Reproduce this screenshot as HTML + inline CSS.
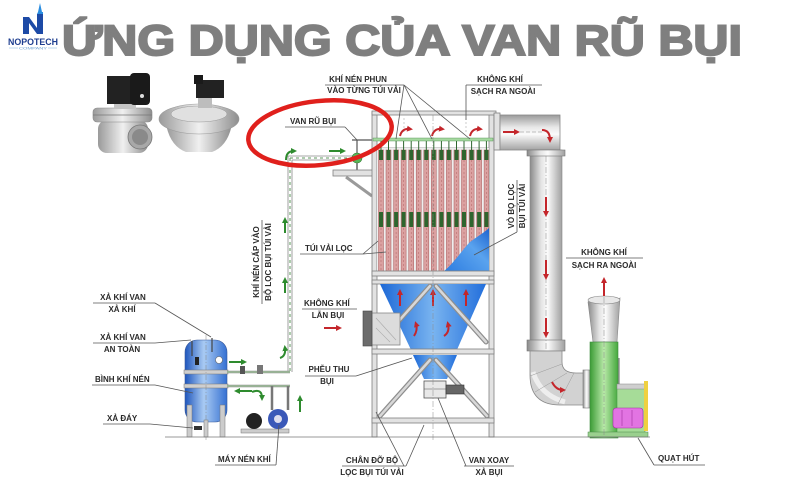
<!DOCTYPE html>
<html><head><meta charset="utf-8">
<style>
html,body{margin:0;padding:0;background:#fff;}
svg{display:block;}
.t{font-family:"Liberation Sans",Arial,sans-serif;font-weight:bold;font-size:8px;fill:#2a2a2a;}
.ln{stroke:#555;stroke-width:0.8;fill:none;}
.fr{fill:#e2e2e2;stroke:#808080;stroke-width:0.8;}
</style></head><body>
<svg width="800" height="496" viewBox="0 0 800 496" xmlns="http://www.w3.org/2000/svg">
<defs>
<linearGradient id="pv" x1="0" x2="1" y1="0" y2="0">
 <stop offset="0" stop-color="#8a8a8a"/><stop offset="0.35" stop-color="#e4e4e4"/><stop offset="0.55" stop-color="#fbfbfb"/><stop offset="1" stop-color="#a0a0a0"/>
</linearGradient>
<linearGradient id="ph" x1="0" x2="0" y1="0" y2="1">
 <stop offset="0" stop-color="#9a9a9a"/><stop offset="0.35" stop-color="#e8e8e8"/><stop offset="0.55" stop-color="#fbfbfb"/><stop offset="1" stop-color="#a4a4a4"/>
</linearGradient>
<linearGradient id="bl" x1="0" x2="1" y1="0" y2="0">
 <stop offset="0" stop-color="#1c68d6"/><stop offset="0.5" stop-color="#79b4f0"/><stop offset="1" stop-color="#226edb"/>
</linearGradient>
<linearGradient id="bl2" x1="0" x2="1" y1="1" y2="0">
 <stop offset="0" stop-color="#2b7be0"/><stop offset="0.6" stop-color="#5aa3ee"/><stop offset="1" stop-color="#1d63cf"/>
</linearGradient>
<linearGradient id="tk" x1="0" x2="1" y1="0" y2="0">
 <stop offset="0" stop-color="#1f56bd"/><stop offset="0.45" stop-color="#a9cbf3"/><stop offset="1" stop-color="#3570d2"/>
</linearGradient>
<linearGradient id="gr" x1="0" x2="1" y1="0" y2="0">
 <stop offset="0" stop-color="#3c9c36"/><stop offset="0.5" stop-color="#b8e8a8"/><stop offset="1" stop-color="#45a83d"/>
</linearGradient>
<linearGradient id="vl" x1="0" x2="1" y1="0" y2="0">
 <stop offset="0" stop-color="#9a9a9a"/><stop offset="0.5" stop-color="#f0f0f0"/><stop offset="1" stop-color="#8e8e8e"/>
</linearGradient>
<marker id="mr" viewBox="0 0 10 10" refX="5" refY="5" markerWidth="6" markerHeight="6" markerUnits="userSpaceOnUse" orient="auto"><path d="M0,0 L10,5 L0,10 z" fill="#c4262b"/></marker>
<marker id="mg" viewBox="0 0 10 10" refX="5" refY="5" markerWidth="6" markerHeight="6" markerUnits="userSpaceOnUse" orient="auto"><path d="M0,0 L10,5 L0,10 z" fill="#2e8b2e"/></marker>
</defs>

<rect width="800" height="496" fill="#fff"/>

<!-- Logo -->
<polygon points="38,12 40,3 42,12 43,12 43,34 37,34 37,14" fill="#2a8de0"/>
<polygon points="23,17 29,17 37,28 37,14 43,14 43,34 37,34 29,23 29,34 23,34" fill="#1d4aa6"/>
<text x="8" y="45" font-family="Liberation Sans, Arial, sans-serif" font-weight="bold" font-size="9" fill="#1d3d8f" textLength="50" lengthAdjust="spacingAndGlyphs">NOPOTECH</text>
<line x1="9" y1="48" x2="18" y2="48" stroke="#7fb0dc" stroke-width="0.5"/>
<line x1="48" y1="48" x2="57" y2="48" stroke="#7fb0dc" stroke-width="0.5"/>
<text x="19" y="49.5" font-family="Liberation Sans, Arial, sans-serif" font-size="3.5" fill="#6a9fd0" textLength="28" lengthAdjust="spacingAndGlyphs">COMPANY</text>

<!-- Title -->
<text x="62" y="55" font-family="Liberation Sans, Arial, sans-serif" font-weight="bold" font-size="43" fill="#7f7f7f" stroke="#7f7f7f" stroke-width="2" textLength="680" lengthAdjust="spacingAndGlyphs">ỨNG DỤNG CỦA VAN RŨ BỤI</text>

<!-- Valve photo 1 -->
<rect x="98" y="120" width="50" height="33" rx="9" fill="url(#vl)"/>
<rect x="93" y="108" width="59" height="14" rx="4" fill="url(#vl)" stroke="#888" stroke-width="0.6"/>
<line x1="93" y1="115" x2="152" y2="115" stroke="#777" stroke-width="0.8"/>
<rect x="114" y="100" width="22" height="9" fill="#c4c4c4"/>
<rect x="107" y="76" width="28" height="28" fill="#222"/>
<rect x="130" y="73" width="20" height="32" rx="4" fill="#1a1a1a"/>
<circle cx="142" cy="96" r="2" fill="#ddd"/>
<circle cx="140" cy="137" r="12" fill="#a8a8a8" stroke="#777" stroke-width="0.8"/>
<circle cx="140" cy="137" r="8" fill="#8a8a8a"/>

<!-- Valve photo 2 -->
<path d="M166,124 L232,124 Q228,146 212,152 L186,152 Q170,146 166,124 z" fill="url(#vl)"/>
<ellipse cx="199" cy="119" rx="40" ry="15" fill="url(#vl)" stroke="#999" stroke-width="0.6"/>
<ellipse cx="199" cy="114" rx="28" ry="8" fill="#e0e0e0" stroke="#999" stroke-width="0.5"/>
<rect x="198" y="96" width="14" height="12" fill="#bdbdbd"/>
<rect x="196" y="80" width="28" height="18" fill="#222"/>
<rect x="194" y="75" width="9" height="9" fill="#1a1a1a"/>

<!-- ===== Left compressed air pipe ===== -->
<line x1="288" y1="156" x2="288" y2="372" stroke="#8a8a8a" stroke-width="0.8"/>
<line x1="292" y1="160" x2="292" y2="372" stroke="#8a8a8a" stroke-width="0.8"/>
<line x1="290" y1="158" x2="290" y2="372" stroke="#5c9a5c" stroke-width="1" stroke-dasharray="3 3"/>
<line x1="288" y1="156" x2="356" y2="156" stroke="#8a8a8a" stroke-width="0.8"/>
<line x1="292" y1="160" x2="356" y2="160" stroke="#8a8a8a" stroke-width="0.8"/>
<line x1="290" y1="158" x2="356" y2="158" stroke="#5c9a5c" stroke-width="1" stroke-dasharray="3 3"/>

<!-- green arrows -->
<path d="M286,160 Q286,151 294,151" stroke="#2e8b2e" stroke-width="2" fill="none" marker-end="url(#mg)"/>
<line x1="329" y1="151" x2="343" y2="151" stroke="#2e8b2e" stroke-width="2" marker-end="url(#mg)"/>
<line x1="285" y1="233" x2="285" y2="220" stroke="#2e8b2e" stroke-width="2" marker-end="url(#mg)"/>
<line x1="285" y1="293" x2="285" y2="280" stroke="#2e8b2e" stroke-width="2" marker-end="url(#mg)"/>
<path d="M280,358 Q286,356 285,348" stroke="#2e8b2e" stroke-width="2" fill="none" marker-end="url(#mg)"/>
<line x1="300" y1="412" x2="300" y2="398" stroke="#2e8b2e" stroke-width="2" marker-end="url(#mg)"/>

<!-- valve (van ru bui) and support -->
<line x1="357" y1="140" x2="357" y2="154" stroke="#555" stroke-width="1.2"/>
<line x1="352" y1="140" x2="373" y2="140" stroke="#555" stroke-width="1.2"/>
<circle cx="357" cy="158" r="5" fill="#58b658" stroke="#2e7a2e" stroke-width="0.6"/>
<line x1="357" y1="163" x2="357" y2="171" stroke="#666" stroke-width="1.5"/>
<rect x="333" y="170" width="40" height="6" class="fr"/>
<line x1="346" y1="177" x2="372" y2="196" stroke="#9a9a9a" stroke-width="3"/>

<!-- ===== Filter housing ===== -->
<rect x="372" y="112" width="5" height="325" class="fr"/>
<rect x="489" y="112" width="5" height="325" class="fr"/>
<rect x="372" y="111" width="124" height="4" class="fr"/>
<rect x="494" y="113" width="6" height="37" class="fr"/>
<line x1="377" y1="148" x2="489" y2="148" stroke="#888" stroke-width="0.8"/>
<line x1="404" y1="118" x2="404" y2="134" stroke="#aaa" stroke-width="0.6" stroke-dasharray="2 2"/>
<line x1="466" y1="118" x2="466" y2="134" stroke="#aaa" stroke-width="0.6" stroke-dasharray="2 2"/>

<!-- bag area -->
<rect x="377" y="148" width="112" height="124" fill="#eeeeee"/>
<g id="bags">
<g fill="#dba1a1" stroke="#a85a5a" stroke-width="0.5">
<rect x="378.5" y="150" width="5" height="122"/>
<rect x="386" y="150" width="5" height="122"/>
<rect x="393.6" y="150" width="5" height="122"/>
<rect x="401.1" y="150" width="5" height="122"/>
<rect x="408.7" y="150" width="5" height="122"/>
<rect x="416.2" y="150" width="5" height="122"/>
<rect x="423.8" y="150" width="5" height="122"/>
<rect x="431.3" y="150" width="5" height="122"/>
<rect x="438.9" y="150" width="5" height="122"/>
<rect x="446.4" y="150" width="5" height="122"/>
<rect x="454" y="150" width="5" height="122"/>
<rect x="461.5" y="150" width="5" height="122"/>
<rect x="469.1" y="150" width="5" height="122"/>
<rect x="476.6" y="150" width="5" height="122"/>
<rect x="484.1" y="150" width="4.5" height="122"/>
</g>
<g stroke="#b06464" stroke-width="0.5" stroke-dasharray="2 2">
<line x1="381" y1="160" x2="381" y2="272"/><line x1="388.5" y1="160" x2="388.5" y2="272"/><line x1="396.1" y1="160" x2="396.1" y2="272"/><line x1="403.6" y1="160" x2="403.6" y2="272"/><line x1="411.2" y1="160" x2="411.2" y2="272"/><line x1="418.7" y1="160" x2="418.7" y2="272"/><line x1="426.3" y1="160" x2="426.3" y2="272"/><line x1="433.8" y1="160" x2="433.8" y2="272"/><line x1="441.4" y1="160" x2="441.4" y2="272"/><line x1="448.9" y1="160" x2="448.9" y2="272"/><line x1="456.5" y1="160" x2="456.5" y2="272"/><line x1="464" y1="160" x2="464" y2="272"/><line x1="471.6" y1="160" x2="471.6" y2="272"/><line x1="479.1" y1="160" x2="479.1" y2="272"/><line x1="486.4" y1="160" x2="486.4" y2="272"/>
</g>
<g fill="#2e652e">
<rect x="379" y="150" width="4" height="10"/><rect x="386.5" y="150" width="4" height="10"/><rect x="394.1" y="150" width="4" height="10"/><rect x="401.6" y="150" width="4" height="10"/><rect x="409.2" y="150" width="4" height="10"/><rect x="416.7" y="150" width="4" height="10"/><rect x="424.3" y="150" width="4" height="10"/><rect x="431.8" y="150" width="4" height="10"/><rect x="439.4" y="150" width="4" height="10"/><rect x="446.9" y="150" width="4" height="10"/><rect x="454.5" y="150" width="4" height="10"/><rect x="462" y="150" width="4" height="10"/><rect x="469.6" y="150" width="4" height="10"/><rect x="477.1" y="150" width="4" height="10"/><rect x="484.4" y="150" width="4" height="10"/>
<rect x="379" y="212" width="4" height="15"/><rect x="386.5" y="212" width="4" height="15"/><rect x="394.1" y="212" width="4" height="15"/><rect x="401.6" y="212" width="4" height="15"/><rect x="409.2" y="212" width="4" height="15"/><rect x="416.7" y="212" width="4" height="15"/><rect x="424.3" y="212" width="4" height="15"/><rect x="431.8" y="212" width="4" height="15"/><rect x="439.4" y="212" width="4" height="15"/><rect x="446.9" y="212" width="4" height="15"/><rect x="454.5" y="212" width="4" height="15"/><rect x="462" y="212" width="4" height="15"/><rect x="469.6" y="212" width="4" height="15"/><rect x="477.1" y="212" width="4" height="15"/><rect x="484.4" y="212" width="4" height="15"/>
</g>
<g stroke="#2e652e" stroke-width="1">
<line x1="381" y1="140" x2="381" y2="150"/><line x1="388.5" y1="140" x2="388.5" y2="150"/><line x1="396.1" y1="140" x2="396.1" y2="150"/><line x1="403.6" y1="140" x2="403.6" y2="150"/><line x1="411.2" y1="140" x2="411.2" y2="150"/><line x1="418.7" y1="140" x2="418.7" y2="150"/><line x1="426.3" y1="140" x2="426.3" y2="150"/><line x1="433.8" y1="140" x2="433.8" y2="150"/><line x1="441.4" y1="140" x2="441.4" y2="150"/><line x1="448.9" y1="140" x2="448.9" y2="150"/><line x1="456.5" y1="140" x2="456.5" y2="150"/><line x1="464" y1="140" x2="464" y2="150"/><line x1="471.6" y1="140" x2="471.6" y2="150"/><line x1="479.1" y1="140" x2="479.1" y2="150"/><line x1="486.4" y1="140" x2="486.4" y2="150"/>
</g>
</g>
<rect x="373" y="138" width="120" height="3" fill="#a5d8a0" stroke="#4a8a4a" stroke-width="0.4"/>
<!-- blue shape in bag area -->
<path d="M443,272 C455,262 462,250 470,242 C478,236 485,232 489,228 L489,272 Z" fill="url(#bl2)"/>

<!-- red arrows in plenum -->
<path d="M400,136 Q402,128 410,129" stroke="#c4262b" stroke-width="2" fill="none" marker-end="url(#mr)"/>
<path d="M432,136 Q434,128 442,129" stroke="#c4262b" stroke-width="2" fill="none" marker-end="url(#mr)"/>
<path d="M470,136 Q472,128 480,129" stroke="#c4262b" stroke-width="2" fill="none" marker-end="url(#mr)"/>

<!-- beams -->
<rect x="372" y="271" width="122" height="5" class="fr"/>
<rect x="372" y="280" width="122" height="4" class="fr"/>

<!-- hopper -->
<path d="M380,284 L486,284 L456,352 L412,352 Z" fill="url(#bl)"/>
<path d="M413,355 L457,355 L447,379 L424,379 Z" fill="url(#bl)"/>
<!-- hopper red arrows -->
<line x1="400" y1="306" x2="400" y2="292" stroke="#c4262b" stroke-width="2" marker-end="url(#mr)"/>
<line x1="433" y1="306" x2="433" y2="292" stroke="#c4262b" stroke-width="2" marker-end="url(#mr)"/>
<line x1="466" y1="306" x2="466" y2="292" stroke="#c4262b" stroke-width="2" marker-end="url(#mr)"/>
<path d="M414,336 Q418,330 416,324" stroke="#c4262b" stroke-width="2" fill="none" marker-end="url(#mr)"/>
<path d="M444,336 Q450,332 448,324" stroke="#c4262b" stroke-width="2" fill="none" marker-end="url(#mr)"/>

<!-- braces -->
<g stroke="#8e8e8e" stroke-width="5" stroke-linecap="round">
<line x1="380" y1="342" x2="430" y2="286"/>
<line x1="486" y1="342" x2="436" y2="286"/>
<line x1="380" y1="416" x2="430" y2="360"/>
<line x1="487" y1="416" x2="436" y2="360"/>
</g>
<g stroke="#d8d8d8" stroke-width="2.5" stroke-linecap="round">
<line x1="380" y1="342" x2="430" y2="286"/>
<line x1="486" y1="342" x2="436" y2="286"/>
<line x1="380" y1="416" x2="430" y2="360"/>
<line x1="487" y1="416" x2="436" y2="360"/>
</g>
<rect x="372" y="349" width="122" height="5" class="fr"/>
<rect x="372" y="418" width="122" height="5" class="fr"/>

<!-- rotary valve -->
<rect x="424" y="381" width="22" height="17" fill="#e8e8e8" stroke="#555" stroke-width="0.8"/>
<line x1="424" y1="389" x2="446" y2="389" stroke="#555" stroke-width="0.6"/>
<rect x="446" y="385" width="18" height="9" fill="#666" stroke="#333" stroke-width="0.6"/>

<!-- inlet -->
<rect x="372" y="313" width="28" height="32" fill="#dcdcdc" stroke="#888" stroke-width="0.8"/>
<line x1="376" y1="318" x2="396" y2="340" stroke="#aaa" stroke-width="0.6"/>
<line x1="376" y1="328" x2="390" y2="342" stroke="#aaa" stroke-width="0.6"/>
<rect x="363" y="311" width="9" height="35" fill="#6c6c6c" stroke="#444" stroke-width="0.6"/>

<!-- dashed centerline -->
<line x1="433" y1="115" x2="433" y2="440" stroke="#888" stroke-width="0.5" stroke-dasharray="6 2 1 2"/>

<!-- ===== Exit duct ===== -->
<rect x="500" y="115" width="60" height="35" fill="url(#ph)" stroke="#888" stroke-width="0.8"/>
<line x1="503" y1="132" x2="517" y2="132" stroke="#c4262b" stroke-width="2" marker-end="url(#mr)"/>
<line x1="520" y1="132" x2="544" y2="132" stroke="#888" stroke-width="0.5" stroke-dasharray="4 2"/>
<path d="M542,130 Q550,130 550,140" stroke="#c4262b" stroke-width="2" fill="none" marker-end="url(#mr)"/>
<rect x="530" y="150" width="32" height="200" fill="url(#pv)" stroke="#888" stroke-width="0.6"/>
<rect x="527" y="150" width="38" height="6" fill="url(#pv)" stroke="#777" stroke-width="0.6"/>
<rect x="527" y="340" width="38" height="11" fill="url(#pv)" stroke="#777" stroke-width="0.6"/>
<line x1="546" y1="156" x2="546" y2="370" stroke="#888" stroke-width="0.5" stroke-dasharray="6 2 1 2"/>
<line x1="546" y1="197" x2="546" y2="214" stroke="#c4262b" stroke-width="2" marker-end="url(#mr)"/>
<line x1="546" y1="260" x2="546" y2="277" stroke="#c4262b" stroke-width="2" marker-end="url(#mr)"/>
<line x1="546" y1="318" x2="546" y2="335" stroke="#c4262b" stroke-width="2" marker-end="url(#mr)"/>
<!-- elbow -->
<path d="M530,351 L530,375 Q530,405 560,405 L590,405 L590,373 L576,373 Q562,373 562,362 L562,351 Z" fill="#d2d2d2" stroke="#888" stroke-width="0.8"/>
<path d="M533,372 Q540,395 565,402" stroke="#eeeeee" stroke-width="5" fill="none"/>
<line x1="530" y1="376" x2="562" y2="364" stroke="#999" stroke-width="0.5"/>
<line x1="535" y1="392" x2="567" y2="373" stroke="#999" stroke-width="0.5"/>
<line x1="558" y1="404" x2="574" y2="373" stroke="#999" stroke-width="0.5"/>
<path d="M552,382 Q556,390 563,390" stroke="#c4262b" stroke-width="2" fill="none" marker-end="url(#mr)"/>
<rect x="583" y="370" width="7" height="38" fill="url(#pv)" stroke="#777" stroke-width="0.6"/>

<!-- Fan -->
<path d="M588,302 Q596,294 604,300 Q612,306 620,298 L617,342 L593,342 Z" fill="url(#pv)" stroke="#888" stroke-width="0.6"/>
<ellipse cx="604" cy="300" rx="16" ry="4" fill="#e8e8e8" stroke="#888" stroke-width="0.6"/>
<rect x="590" y="342" width="28" height="96" fill="url(#gr)" stroke="#3d8a3d" stroke-width="0.6"/>
<rect x="617" y="388" width="28" height="48" fill="#a6dc98" stroke="#4a9a4a" stroke-width="0.6"/>
<rect x="617" y="384" width="28" height="5" fill="#cfcfcf" stroke="#888" stroke-width="0.5"/>
<line x1="619" y1="358" x2="619" y2="384" stroke="#666" stroke-width="1"/>
<rect x="613" y="408" width="30" height="20" rx="3" fill="#e274e2" stroke="#a030a0" stroke-width="0.6"/>
<line x1="622" y1="410" x2="622" y2="426" stroke="#a030a0" stroke-width="0.6"/>
<line x1="632" y1="410" x2="632" y2="426" stroke="#a030a0" stroke-width="0.6"/>
<rect x="644" y="381" width="4" height="50" fill="#efd040"/>
<rect x="588" y="432" width="60" height="5" fill="#9ad08e" stroke="#4a8a4a" stroke-width="0.5"/>
<line x1="604" y1="297" x2="604" y2="440" stroke="#888" stroke-width="0.5" stroke-dasharray="6 2 1 2"/>
<line x1="604" y1="296" x2="604" y2="280" stroke="#c4262b" stroke-width="2" marker-end="url(#mr)"/>

<!-- ===== Tank ===== -->
<rect x="185" y="340" width="42" height="82" rx="12" fill="url(#tk)" stroke="#3a5a9a" stroke-width="0.6"/>
<rect x="184" y="370" width="44" height="4" fill="#cfcfcf" stroke="#777" stroke-width="0.5"/>
<rect x="184" y="384" width="44" height="4" fill="#cfcfcf" stroke="#777" stroke-width="0.5"/>
<line x1="206" y1="335" x2="206" y2="440" stroke="#888" stroke-width="0.5" stroke-dasharray="5 2 1 2"/>
<rect x="187" y="405" width="5" height="32" fill="#ccc" stroke="#777" stroke-width="0.5"/>
<rect x="220" y="405" width="5" height="32" fill="#ccc" stroke="#777" stroke-width="0.5"/>
<rect x="204" y="420" width="4" height="17" fill="#ccc" stroke="#777" stroke-width="0.5"/>
<line x1="212" y1="338" x2="212" y2="352" stroke="#444" stroke-width="1.2"/>
<line x1="192" y1="341" x2="192" y2="356" stroke="#444" stroke-width="1.2"/>
<rect x="195" y="357" width="4" height="8" fill="#222"/>
<circle cx="219" cy="360" r="3.5" fill="#fff" stroke="#666" stroke-width="0.6"/>
<rect x="194" y="426" width="8" height="4" fill="#333"/>
<!-- tank pipes -->
<line x1="227" y1="372" x2="290" y2="372" stroke="#8a8a8a" stroke-width="2.5"/>
<line x1="227" y1="372" x2="290" y2="372" stroke="#a6d8a0" stroke-width="1"/>
<line x1="227" y1="386" x2="290" y2="386" stroke="#8a8a8a" stroke-width="2.5"/>
<line x1="227" y1="386" x2="290" y2="386" stroke="#a6d8a0" stroke-width="1"/>
<rect x="240" y="366" width="5" height="8" fill="#555"/>
<rect x="257" y="365" width="6" height="9" fill="#777"/>
<line x1="229" y1="362" x2="244" y2="362" stroke="#2e8b2e" stroke-width="2" marker-end="url(#mg)"/>
<line x1="252" y1="391" x2="237" y2="391" stroke="#2e8b2e" stroke-width="2" marker-end="url(#mg)"/>
<path d="M252,392 Q262,388 262,398" stroke="#2e8b2e" stroke-width="2" fill="none" marker-end="url(#mg)"/>
<!-- compressor -->
<line x1="272" y1="386" x2="272" y2="410" stroke="#777" stroke-width="2.5"/>
<line x1="288" y1="386" x2="288" y2="410" stroke="#777" stroke-width="2.5"/>
<rect x="241" y="429" width="48" height="4" fill="#ccc" stroke="#777" stroke-width="0.5"/>
<circle cx="254" cy="421" r="8" fill="#222"/>
<circle cx="278" cy="419" r="10" fill="#3a58b8"/>
<circle cx="278" cy="419" r="4" fill="#dde"/>

<!-- ground line -->
<line x1="165" y1="437" x2="650" y2="437" stroke="#777" stroke-width="0.8"/>

<!-- red ellipse -->
<ellipse cx="320" cy="133" rx="72" ry="32" transform="rotate(-6 320 133)" fill="none" stroke="#e0201c" stroke-width="4.5"/>

<!-- ===== Labels ===== -->
<text class="t" x="358" y="82" text-anchor="middle">KHÍ NÉN PHUN</text>
<text class="t" x="364" y="93" text-anchor="middle">VÀO TỪNG TÚI VẢI</text>
<line class="ln" x1="325" y1="85" x2="404" y2="85"/>
<line class="ln" x1="404" y1="85" x2="396" y2="139"/>
<line class="ln" x1="404" y1="85" x2="432" y2="139"/>
<line class="ln" x1="404" y1="85" x2="470" y2="139"/>

<text class="t" x="500" y="82" text-anchor="middle">KHÔNG KHÍ</text>
<text class="t" x="503" y="94" text-anchor="middle">SẠCH RA NGOÀI</text>
<line class="ln" x1="466" y1="85" x2="542" y2="85"/>
<line class="ln" x1="466" y1="85" x2="466" y2="120"/>

<text class="t" x="290" y="124">VAN RŨ BỤI</text>
<line class="ln" x1="285" y1="127" x2="345" y2="127"/>
<line class="ln" x1="345" y1="127" x2="357" y2="140"/>

<text class="t" transform="translate(259 262) rotate(-90)" text-anchor="middle">KHÍ NÉN CẤP VÀO</text>
<text class="t" transform="translate(271 262) rotate(-90)" text-anchor="middle">BỘ LỌC BỤI TÚI VẢI</text>
<line class="ln" x1="262" y1="220" x2="262" y2="304"/>

<text class="t" x="305" y="251">TÚI VẢI LỌC</text>
<line class="ln" x1="300" y1="254" x2="363" y2="254"/>
<line class="ln" x1="363" y1="254" x2="378" y2="241"/>
<line class="ln" x1="363" y1="254" x2="386" y2="252"/>

<text class="t" transform="translate(514 206) rotate(-90)" text-anchor="middle">VỎ BỌ LỌC</text>
<text class="t" transform="translate(525 206) rotate(-90)" text-anchor="middle">BỤI TÚI VẢI</text>
<line class="ln" x1="517" y1="180" x2="517" y2="232"/>
<line class="ln" x1="517" y1="232" x2="474" y2="255"/>

<text class="t" x="304" y="306">KHÔNG  KHÍ</text>
<text class="t" x="328" y="318" text-anchor="middle">LẪN BỤI</text>
<line class="ln" x1="302" y1="309" x2="357" y2="309"/>
<line x1="324" y1="328" x2="339" y2="328" stroke="#c4262b" stroke-width="2" marker-end="url(#mr)"/>

<text class="t" x="329" y="372" text-anchor="middle">PHỄU THU</text>
<text class="t" x="327" y="384" text-anchor="middle">BỤI</text>
<line class="ln" x1="305" y1="376" x2="356" y2="376"/>
<line class="ln" x1="356" y1="376" x2="412" y2="358"/>

<text class="t" x="372" y="463" text-anchor="middle">CHÂN ĐỠ BỘ</text>
<text class="t" x="372" y="475" text-anchor="middle">LỌC BỤI TÚI VẢI</text>
<line class="ln" x1="342" y1="466" x2="406" y2="466"/>
<line class="ln" x1="404" y1="466" x2="376" y2="412"/>
<line class="ln" x1="406" y1="466" x2="424" y2="425"/>

<text class="t" x="489" y="463" text-anchor="middle">VAN XOAY</text>
<text class="t" x="489" y="475" text-anchor="middle">XẢ BỤI</text>
<line class="ln" x1="464" y1="466" x2="514" y2="466"/>
<line class="ln" x1="466" y1="466" x2="438" y2="398"/>

<text class="t" x="604" y="255" text-anchor="middle">KHÔNG KHÍ</text>
<text class="t" x="604" y="268" text-anchor="middle">SẠCH RA NGOÀI</text>
<line class="ln" x1="566" y1="258" x2="643" y2="258"/>

<text class="t" x="658" y="461">QUẠT HÚT</text>
<line class="ln" x1="654" y1="465" x2="705" y2="465"/>
<line class="ln" x1="654" y1="465" x2="638" y2="438"/>

<text class="t" x="123" y="300" text-anchor="middle">XẢ KHÍ VAN</text>
<text class="t" x="122" y="312" text-anchor="middle">XẢ KHÍ</text>
<line class="ln" x1="93" y1="303" x2="155" y2="303"/>
<line class="ln" x1="155" y1="303" x2="211" y2="337"/>

<text class="t" x="123" y="340" text-anchor="middle">XẢ KHÍ VAN</text>
<text class="t" x="122" y="352" text-anchor="middle">AN TOÀN</text>
<line class="ln" x1="93" y1="343" x2="155" y2="343"/>
<line class="ln" x1="155" y1="343" x2="191" y2="340"/>

<text class="t" x="95" y="382">BÌNH KHÍ NÉN</text>
<line class="ln" x1="92" y1="385" x2="155" y2="385"/>
<line class="ln" x1="155" y1="385" x2="193" y2="393"/>

<text class="t" x="107" y="421">XẢ ĐÁY</text>
<line class="ln" x1="103" y1="424" x2="150" y2="424"/>
<line class="ln" x1="150" y1="424" x2="193" y2="428"/>

<text class="t" x="218" y="462">MÁY NÉN KHÍ</text>
<line class="ln" x1="215" y1="465" x2="276" y2="465"/>
<line class="ln" x1="276" y1="465" x2="279" y2="425"/>
</svg>
</body></html>
